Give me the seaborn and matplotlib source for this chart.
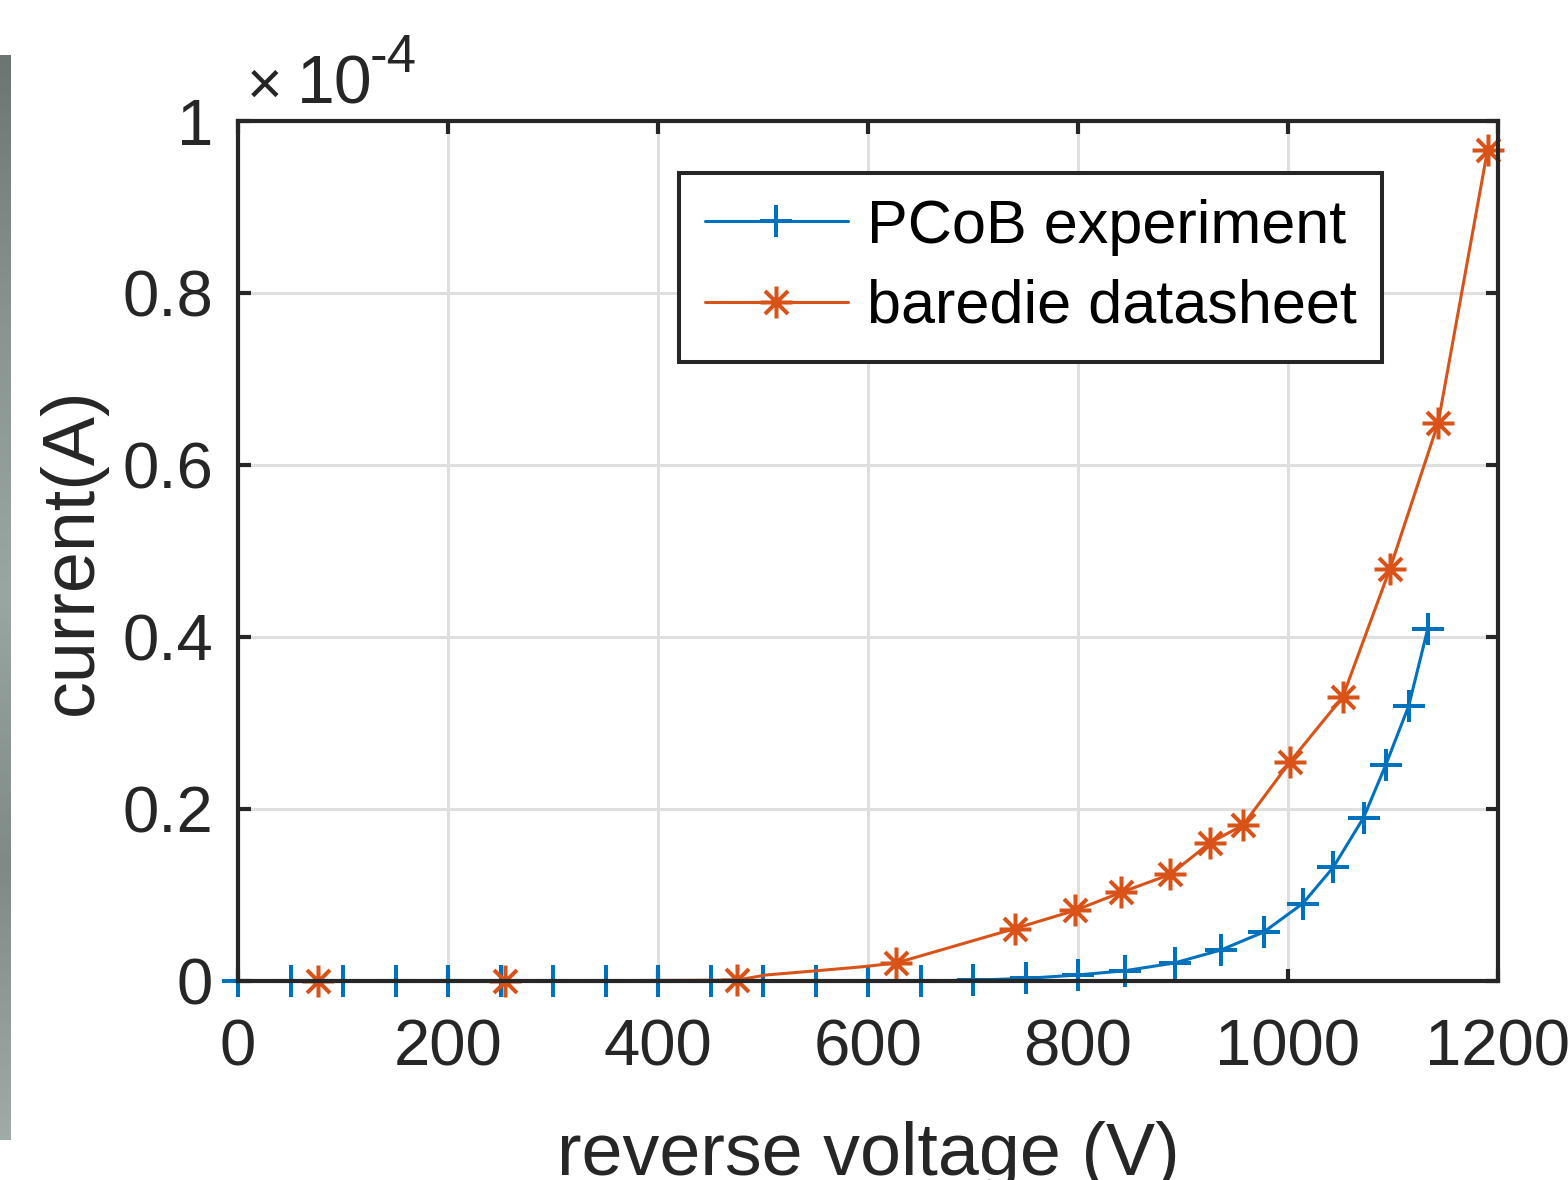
import matplotlib
matplotlib.use('Agg')
import matplotlib.pyplot as plt
import numpy as np
import seaborn as sns
from matplotlib.path import Path
from matplotlib.colors import LinearSegmentedColormap

# PCoB experiment (reverse voltage in V, current in A)
pcob_voltage = [0, 50, 100, 150, 200, 250, 300, 350, 400, 450, 500, 550, 600, 650,
                700, 750, 800, 845, 892, 936, 977, 1014, 1043, 1072, 1093, 1115, 1133]
pcob_current = [0, 0, 0, 0, 0, 0, 0, 0, 0, 0, 0, 0, 0, 0,
                0.001e-4, 0.003e-4, 0.007e-4, 0.012e-4, 0.021e-4, 0.036e-4, 0.057e-4,
                0.090e-4, 0.132e-4, 0.190e-4, 0.251e-4, 0.320e-4, 0.409e-4]

# bare die datasheet (the line has a few more points than the markers)
bare_voltage = [76, 254, 475, 503, 552, 596, 627, 740, 797, 841, 888, 926, 957, 1002,
                1052, 1097, 1143, 1190]
bare_current = [0, 0, 0.001e-4, 0.007e-4, 0.012e-4, 0.0167e-4, 0.021e-4, 0.061e-4,
                0.082e-4, 0.103e-4, 0.124e-4, 0.161e-4, 0.181e-4, 0.255e-4, 0.330e-4,
                0.479e-4, 0.649e-4, 0.966e-4]
bare_marker_idx = [0, 1, 2, 6, 7, 8, 9, 10, 11, 12, 13, 14, 15, 16, 17]

x_ticks = [0, 200, 400, 600, 800, 1000, 1200]
y_ticks = [0, 0.2, 0.4, 0.6, 0.8, 1]
y_ticklabels = ['0', '0.2', '0.4', '0.6', '0.8', '1']
scale = 1e-4

BLUE = '#0072BD'
ORANGE = '#D95319'
DARK = '#262626'

sns.set_theme(style='ticks')
plt.rcParams['font.family'] = ['Liberation Sans', 'DejaVu Sans']

# matlab style asterisk marker
a = 0.72
asterisk = Path([(-1, 0), (1, 0), (0, -1), (0, 1), (-a, -a), (a, a), (-a, a), (a, -a)],
                [Path.MOVETO, Path.LINETO] * 4)

fig = plt.figure(figsize=(15.68, 11.8), dpi=100)
ax = fig.add_axes([238/1568, 1-981/1180, 1260/1568, 860/1180])

sns.lineplot(x=np.array(pcob_voltage), y=np.array(pcob_current)/scale, ax=ax, color=BLUE,
             marker='+', markersize=23, markeredgewidth=2.9, markeredgecolor=BLUE,
             linewidth=2.2, label='PCoB experiment', clip_on=False, zorder=3)
sns.lineplot(x=np.array(bare_voltage), y=np.array(bare_current)/scale, ax=ax, color=ORANGE,
             marker=asterisk, markersize=23, markeredgewidth=2.9, markeredgecolor=ORANGE,
             markerfacecolor='none', markevery=bare_marker_idx, linewidth=2.2,
             label='baredie datasheet', clip_on=False, zorder=4)

ax.set_xlim(0, 1200)
ax.set_ylim(0, 1)
ax.set_xticks(x_ticks)
ax.set_xticklabels([str(t) for t in x_ticks])
ax.set_yticks(y_ticks)
ax.set_yticklabels(y_ticklabels)

ax.grid(True, color='#dfdfdf', linewidth=2.2)
ax.set_axisbelow(True)
for s in ax.spines.values():
    s.set_visible(True)
    s.set_color(DARK)
    s.set_linewidth(3)
    s.set_zorder(5)
ax.tick_params(axis='both', direction='in', length=9, width=3, color=DARK,
               labelsize=47, labelcolor=DARK, top=True, right=True)
ax.tick_params(axis='x', pad=27)
ax.tick_params(axis='y', pad=18)

ax.set_xlabel('reverse voltage (V)', fontsize=53, color=DARK)
ax.xaxis.label.set_va('baseline')
ax.xaxis.set_label_coords(0.5, (981-1175)/860)
ax.set_ylabel('current(A)', fontsize=53, color=DARK)
ax.yaxis.label.set_va('center')
ax.yaxis.set_label_coords((72-238)/1260, 0.5)

# exponent label, matlab style
fig.text(247/1568, 1-104/1180, '\u00d7', fontsize=44, color=DARK, ha='left', va='baseline')
fig.text(297/1568, 1-104/1180, '10', fontsize=49, color=DARK, ha='left', va='baseline')
fig.text(370/1568, 1-72/1180, '-4', fontsize=38, color=DARK, ha='left', va='baseline')

leg = ax.legend(loc='upper left', bbox_to_anchor=(0.35, 0.9395), borderaxespad=0,
                fontsize=44, handlelength=2.35, handletextpad=0.3, labelspacing=0.38,
                borderpad=0.42, fancybox=False, framealpha=1, edgecolor=DARK)
leg.get_frame().set_linewidth(2.9)
for t in leg.get_texts():
    t.set_color('black')

# grey strip on the left edge of the picture
strip = fig.add_axes([0, 1-1140/1180, 11/1568, (1140-55)/1180])
cmap = LinearSegmentedColormap.from_list('strip', ['#6c7571', '#8a9591', '#9aa6a2',
                                                   '#7f8a86', '#a0aba7'])
strip.imshow(np.linspace(0, 1, 200).reshape(-1, 1), aspect='auto', cmap=cmap)
strip.axis('off')

fig.savefig('out.png', dpi=100)
